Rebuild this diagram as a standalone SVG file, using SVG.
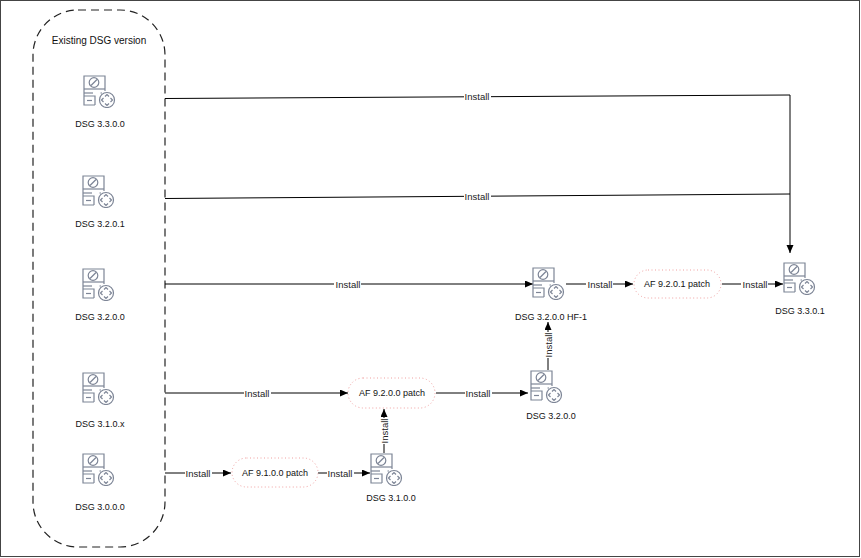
<svg xmlns="http://www.w3.org/2000/svg" xmlns:xlink="http://www.w3.org/1999/xlink" width="861" height="558" viewBox="0 0 861 558">
<style>
.t{font-family:"Liberation Sans",Arial,sans-serif;font-size:9px;fill:#111;text-anchor:middle}
.lb{font-family:"Liberation Sans",Arial,sans-serif;font-size:9.5px;fill:#222;text-anchor:middle}
.ti{font-family:"Liberation Sans",Arial,sans-serif;font-size:10px;fill:#111;text-anchor:middle}
.c{fill:none;stroke:#000;stroke-width:1}
.a{marker-end:url(#ar)}
.p{fill:#fff;stroke:#f0a0a0;stroke-width:1;stroke-dasharray:1,2.5}
.bg{fill:#fff}
.ic{fill:none;stroke:#7d8596;stroke-width:1.2}
</style>
<defs>
<marker id="ar" markerUnits="userSpaceOnUse" markerWidth="9" markerHeight="8" refX="8" refY="3.5" orient="auto">
<path d="M0,0 L8,3.5 L0,7 z" fill="#000"/>
</marker>
<symbol id="ic" viewBox="0 0 33 33">
<g class="ic">
<path d="M12,30 H1 V1 H22 V16"/>
<path d="M1,14 H22"/>
<circle cx="11" cy="7.5" r="4.8"/>
<path d="M8,10.5 L14,4.5"/>
<path d="M1,18 H10"/>
<path d="M17.5,18 h1.5"/>
<path d="M1,21 H12 V30"/>
<path d="M4,25.5 H9"/>
<circle cx="24" cy="25" r="7.5"/>
<path d="M22,21.5 l2,-2 l2,2 M22,28.5 l2,2 l2,-2 M20.5,23 l-2,2 l2,2 M27.5,23 l2,2 l-2,2"/>
</g>
</symbol>
</defs>
<rect x="0.5" y="0.5" width="859" height="556" fill="#fff" stroke="#444" stroke-width="1"/>
<g id="container">
<rect x="33" y="10" width="132" height="537" rx="45" ry="45" fill="none" stroke="#222" stroke-width="1.2" stroke-dasharray="8,5"/>
<text class="ti" x="99" y="44">Existing DSG version</text>
</g>
<g id="connectors">
<path class="c" d="M165,98.5 L790,95 L790,253" marker-end="url(#ar)"/>
<path class="c" d="M165,198.5 L790,194"/>
<path class="c a" d="M165,284 H533"/>
<path class="c a" d="M566,284 H633"/>
<path class="c a" d="M722,284 H783"/>
<path class="c a" d="M165,393 H348"/>
<path class="c a" d="M436,393 H528"/>
<path class="c a" d="M548,370 V322"/>
<path class="c a" d="M165,473 H231"/>
<path class="c a" d="M318,473 H370"/>
<path class="c a" d="M384,453 V409"/>
<g id="labels">
<rect class="bg" x="464" y="90" width="27" height="12"/><text class="lb" x="477" y="100">Install</text>
<rect class="bg" x="464" y="190" width="27" height="12"/><text class="lb" x="477" y="200">Install</text>
<rect class="bg" x="334" y="278" width="27" height="12"/><text class="lb" x="348" y="288">Install</text>
<rect class="bg" x="586" y="278" width="27" height="12"/><text class="lb" x="600" y="288">Install</text>
<rect class="bg" x="741" y="278" width="27" height="12"/><text class="lb" x="755" y="288">Install</text>
<rect class="bg" x="244" y="387" width="27" height="12"/><text class="lb" x="257" y="397">Install</text>
<rect class="bg" x="465" y="387" width="27" height="12"/><text class="lb" x="478" y="397">Install</text>
<rect class="bg" x="185" y="467" width="27" height="12"/><text class="lb" x="198" y="477">Install</text>
<rect class="bg" x="327" y="467" width="27" height="12"/><text class="lb" x="340" y="477">Install</text>
<g transform="translate(548,345) rotate(-90)"><rect class="bg" x="-13" y="-6" width="26" height="12"/><text class="lb" x="0" y="3.5">Install</text></g>
<g transform="translate(384,431) rotate(-90)"><rect class="bg" x="-13" y="-6" width="26" height="12"/><text class="lb" x="0" y="3.5">Install</text></g>
</g>
</g>
<g id="dsg3300"><use xlink:href="#ic" x="83" y="75" width="33" height="33"/><text class="t" x="100" y="127">DSG 3.3.0.0</text></g>
<g id="dsg3201"><use xlink:href="#ic" x="82" y="175" width="33" height="33"/><text class="t" x="100" y="227">DSG 3.2.0.1</text></g>
<g id="dsg3200a"><use xlink:href="#ic" x="82" y="268" width="33" height="33"/><text class="t" x="100" y="320">DSG 3.2.0.0</text></g>
<g id="dsg310x"><use xlink:href="#ic" x="82" y="372" width="33" height="33"/><text class="t" x="100" y="427">DSG 3.1.0.x</text></g>
<g id="dsg3000"><use xlink:href="#ic" x="82" y="453" width="33" height="33"/><text class="t" x="100" y="510">DSG 3.0.0.0</text></g>
<g id="dsg3200hf1"><use xlink:href="#ic" x="532" y="267" width="33" height="33"/><text class="t" x="551" y="320">DSG 3.2.0.0 HF-1</text></g>
<g id="dsg3200b"><use xlink:href="#ic" x="530" y="370" width="33" height="33"/><text class="t" x="551" y="419">DSG 3.2.0.0</text></g>
<g id="dsg3301"><use xlink:href="#ic" x="783" y="262" width="33" height="33"/><text class="t" x="800" y="314">DSG 3.3.0.1</text></g>
<g id="dsg3100"><use xlink:href="#ic" x="370" y="453" width="33" height="33"/><text class="t" x="391" y="501">DSG 3.1.0.0</text></g>
<g id="af9201"><rect class="p" x="634" y="270" width="87" height="28" rx="14"/><text class="t" x="677" y="287">AF 9.2.0.1 patch</text></g>
<g id="af9200"><rect class="p" x="348" y="378" width="87" height="30" rx="15"/><text class="t" x="392" y="396">AF 9.2.0.0 patch</text></g>
<g id="af9100"><rect class="p" x="232" y="458" width="86" height="29" rx="14.5"/><text class="t" x="275" y="476">AF 9.1.0.0 patch</text></g>
</svg>
